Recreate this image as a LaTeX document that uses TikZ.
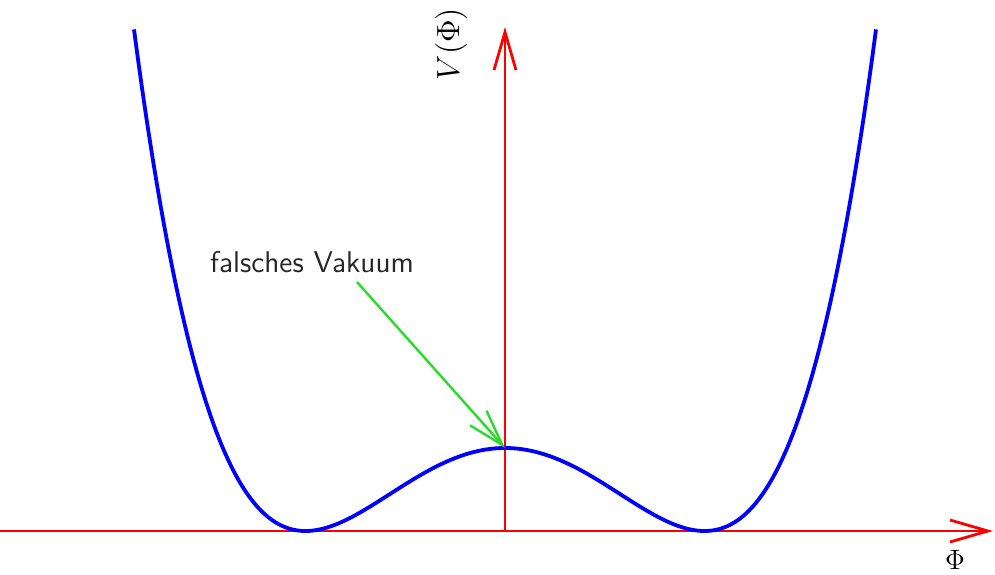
\RequirePackage{fix-cm}
\documentclass[tikz,border=0pt]{standalone}
\usepackage{fontspec}
\usepackage{tikz}
\usetikzlibrary{arrows.meta}

\begin{document}
\begin{tikzpicture}[x=0.5pt, y=0.5pt,
    axis/.style={draw=red, line width=1.4pt, -{Straight Barb[length=19pt,width=11pt,line width=1.4pt]}},
    potential/.style={draw=blue, line width=1.9pt},
    hint/.style={draw={rgb,255:red,40;green,220;blue,40}, line width=1.2pt, -{Straight Barb[length=18pt,width=11pt,line width=1.2pt]}}]
    \useasboundingbox (-505,-43) rectangle (490,531);
    \coordinate (O) at (0,0);
    \coordinate (xleft) at (-505,0);
    \coordinate (xend) at (488,0);
    \coordinate (yend) at (0,504);
    \coordinate (peak) at (0,83);
    \coordinate (hintstart) at (-148,249);
    \draw[axis] (xleft) -- (xend);
    \draw[axis] (O) -- (yend);
    \draw[potential] plot[domain=-371:371, samples=200, smooth] (\x, {83*((\x/199.5)^2-1)^2});
    \node[rotate=90, font=\fontsize{16}{19}\selectfont] (vlabel) at (-54,487) {$V(\Phi)$};
    \node[font=\fontsize{14}{17}\selectfont] (philabel) at (450,-29) {$\Phi$};
    \node[font=\sffamily\fontsize{15}{18}\selectfont, text=black!85] (vakuum) at (-193,269) {falsches Vakuum};
    \draw[hint] (hintstart) -- (peak);
\end{tikzpicture}
\end{document}
